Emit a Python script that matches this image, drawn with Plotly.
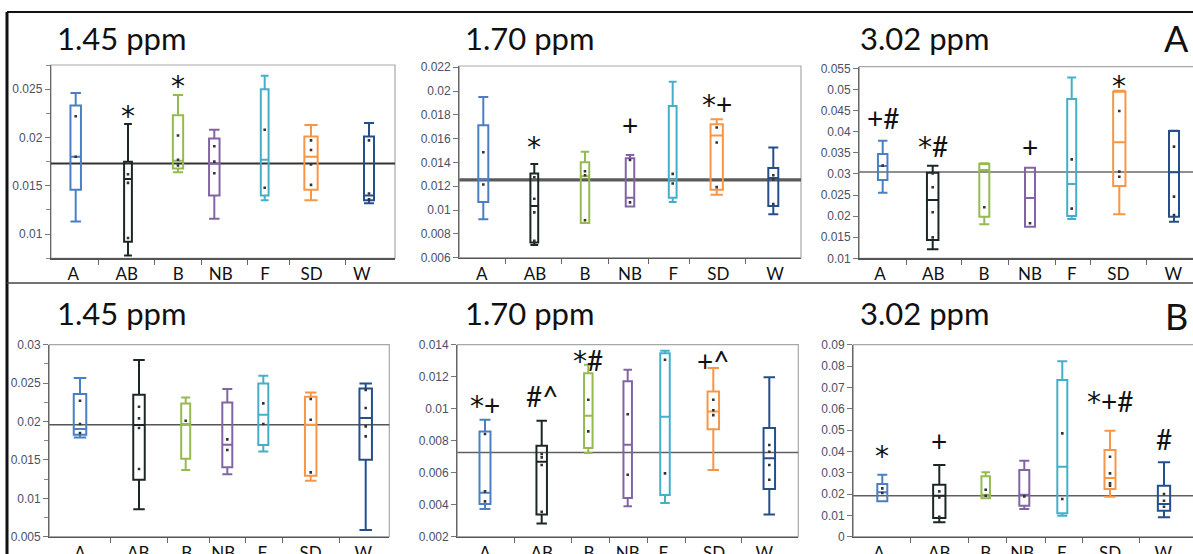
import plotly.graph_objects as go

# ---------------- DATA ----------------
GROUPS = ["A", "AB", "B", "NB", "F", "SD", "W"]

# Panel A, 1.45 ppm
A145_LOW = [0.0113, 0.0078, 0.0164, 0.0116, 0.0135, 0.0135, 0.0132]
A145_Q1 = [0.0146, 0.0092, 0.0168, 0.0140, 0.0140, 0.0146, 0.0135]
A145_MED = [0.0180, 0.0157, 0.0176, 0.0173, 0.0177, 0.0180, 0.0140]
A145_Q3 = [0.0233, 0.0175, 0.0223, 0.0199, 0.0250, 0.0201, 0.0201]
A145_HIGH = [0.0246, 0.0214, 0.0244, 0.0208, 0.0264, 0.0213, 0.0215]
A145_PTS = [[0.0222, 0.0180], [0.0162, 0.0153, 0.0096], [0.0202, 0.0177, 0.0171],
            [0.0191, 0.0175, 0.0163], [0.0208, 0.0148], [0.0197, 0.0187, 0.0172, 0.0151],
            [0.0197, 0.0142, 0.0136]]
A145_MEAN = 0.0173
A145_YTICKS = [0.01, 0.015, 0.02, 0.025]

# Panel A, 1.70 ppm
A170_LOW = [0.00923, 0.00706, 0.00892, 0.01031, 0.01067, 0.01129, 0.00964]
A170_Q1 = [0.01067, 0.00728, 0.00892, 0.01031, 0.01104, 0.01170, 0.01034]
A170_MED = [0.01257, 0.01034, 0.01284, 0.01104, 0.01257, 0.01627, 0.01270]
A170_Q3 = [0.01713, 0.01307, 0.01401, 0.01435, 0.01874, 0.01721, 0.01354]
A170_HIGH = [0.01949, 0.01387, 0.01490, 0.01462, 0.02077, 0.01763, 0.01526]
A170_PTS = [[0.01485, 0.01215], [0.01276, 0.01095, 0.00981, 0.00742], [0.01326, 0.01293, 0.00914],
            [0.01421, 0.01065], [0.01304, 0.01223], [0.01693, 0.01568, 0.01193],
            [0.01293, 0.01257, 0.01051]]
A170_MEAN = 0.01254
A170_YTICKS = [0.006, 0.008, 0.01, 0.012, 0.014, 0.016, 0.018, 0.02, 0.022]

# Panel A, 3.02 ppm
A302_LOW = [0.02555, 0.01213, 0.01805, 0.01750, 0.01932, 0.02042, 0.01868]
A302_Q1 = [0.02855, 0.01434, 0.01987, 0.01750, 0.02003, 0.02713, 0.01987]
A302_MED = [0.03187, 0.02382, 0.03092, 0.02429, 0.02760, 0.03747, 0.03037]
A302_Q3 = [0.03471, 0.03029, 0.03234, 0.03147, 0.04774, 0.04947, 0.04016]
A302_HIGH = [0.03787, 0.03195, 0.03250, 0.03147, 0.05287, 0.04971, 0.04024]
A302_PTS = [[0.03195], [0.03010, 0.02682, 0.02090, 0.01497], [0.02208], [0.01829],
            [0.03345, 0.02176], [0.04490, 0.03053, 0.02934], [0.03645, 0.02461, 0.02026]]
A302_MEAN = 0.03045
A302_YTICKS = [0.01, 0.015, 0.02, 0.025, 0.03, 0.035, 0.04, 0.045, 0.05, 0.055]

# Panel B, 1.45 ppm
B145_LOW = [0.01793, 0.00856, 0.01368, 0.01312, 0.01611, 0.01229, 0.00587]
B145_Q1 = [0.01828, 0.01242, 0.01516, 0.01403, 0.01694, 0.01294, 0.01503]
B145_MED = [0.01902, 0.01954, 0.01967, 0.01698, 0.02088, 0.01958, 0.02045]
B145_Q3 = [0.02358, 0.02349, 0.02236, 0.02249, 0.02496, 0.02323, 0.02431]
B145_HIGH = [0.02566, 0.02800, 0.02314, 0.02423, 0.02596, 0.02379, 0.02496]
B145_PTS = [[0.02271, 0.01967, 0.01850], [0.02193, 0.02041, 0.01915, 0.01381], [0.02010],
            [0.01767, 0.01628], [0.02236, 0.01967], [0.02292, 0.02023, 0.01338],
            [0.02410, 0.02175, 0.01937, 0.01806]]
B145_MEAN = 0.01958
B145_YTICKS = [0.005, 0.01, 0.015, 0.02, 0.025, 0.03]

# Panel B, 1.70 ppm
B170_LOW = [0.00373, 0.00283, 0.00723, 0.00390, 0.00410, 0.00617, 0.00338]
B170_Q1 = [0.00404, 0.00338, 0.00754, 0.00442, 0.00460, 0.00871, 0.00498]
B170_MED = [0.00475, 0.00669, 0.00956, 0.00775, 0.00950, 0.00983, 0.00690]
B170_Q3 = [0.00858, 0.00769, 0.01221, 0.01171, 0.01346, 0.01108, 0.00879]
B170_HIGH = [0.00931, 0.00925, 0.01275, 0.01244, 0.01362, 0.01254, 0.01196]
B170_PTS = [[0.00842, 0.00483, 0.00421], [0.00717, 0.00696, 0.00648, 0.00356], [0.01056, 0.00858],
            [0.00965, 0.00587], [0.01306, 0.00596], [0.01056, 0.00990, 0.00960],
            [0.00773, 0.00731, 0.00648, 0.00556]]
B170_MEAN = 0.00727
B170_YTICKS = [0.002, 0.004, 0.006, 0.008, 0.01, 0.012, 0.014]

# Panel B, 3.02 ppm
B302_LOW = [0.01656, 0.00672, 0.01797, 0.01297, 0.00984, 0.01875, 0.00906]
B302_Q1 = [0.01656, 0.00875, 0.01797, 0.01453, 0.01094, 0.02234, 0.01219]
B302_MED = [0.02078, 0.01922, 0.01969, 0.01969, 0.03281, 0.02750, 0.01531]
B302_Q3 = [0.02469, 0.02438, 0.02828, 0.03125, 0.07344, 0.04063, 0.02391]
B302_HIGH = [0.02906, 0.03360, 0.03016, 0.03563, 0.08219, 0.04969, 0.03484]
B302_PTS = [[0.02266, 0.02050], [0.02125, 0.01844, 0.00938], [0.02200, 0.01920], [0.01891],
            [0.04844, 0.01766], [0.03750, 0.02969, 0.02500, 0.02390], [0.02000, 0.01688, 0.01406]]
B302_MEAN = 0.01922
B302_YTICKS = [0, 0.01, 0.02, 0.03, 0.04, 0.05, 0.06, 0.07, 0.08, 0.09]

# significance marks: (group index, text, y value of glyph centre)
A145_SIG = [(1, "*", 0.0228), (2, "*", 0.0259)]
A170_SIG = [(1, "*", 0.0158), (3, "+", 0.01713), (5, "*+", 0.01883)]
A302_SIG = [(0, "+#", 0.04316), (1, "*#", 0.03643), (3, "+", 0.03643), (5, "*", 0.0522)]
B145_SIG = []
B170_SIG = [(0, "*+", 0.0102), (1, "#^", 0.01081), (2, "*#", 0.01304), (5, "+^", 0.01296)]
B302_SIG = [(0, "*", 0.0403), (1, "+", 0.045), (5, "*+#", 0.0633), (6, "#", 0.0458)]

# ---------------- STYLE / LAYOUT ----------------
W, H = 1193, 554
COLORS = ["#4a7fc4", "#1b2727", "#95ba4f", "#8264a6", "#45afc9", "#f79646", "#254f8c"]
TICKFONT = dict(family="Liberation Sans, Arial", size=12, color="#4a5068")
LABELFONT = dict(family="Lato, Open Sans", size=17, color="#111111")
MARKFONT = dict(family="Lato, Open Sans", size=28, color="#111111")
STAR = "<span style='font-family:DejaVu Sans'>*</span>"

# panel geometry in pixels: left, right, top, bottom, y range, minor dtick,
# box centres, box widths, label centres, slot separators, mean line style
PANELS = [
    dict(name="1.45 ppm", lo=A145_LOW, q1=A145_Q1, med=A145_MED, q3=A145_Q3, hi=A145_HIGH,
         pts=A145_PTS, mean=A145_MEAN, yt=A145_YTICKS, sig=A145_SIG,
         px=(51, 395, 65, 258.3), yr=(0.0075, 0.0275), minor=0.0025,
         cx=[75.7, 128, 178, 214.3, 264.7, 311, 369], bw=[10.5, 7.8, 10.3, 10.5, 7.8, 13.3, 10],
         lx=[73.3, 126.7, 178.3, 220.7, 265, 311.7, 361.7],
         sep=[98.3, 154.3, 201, 247.7, 289.3, 345], mline=("#333333", 2),
         title_x=55, title_y=38),
    dict(name="1.70 ppm", lo=A170_LOW, q1=A170_Q1, med=A170_MED, q3=A170_Q3, hi=A170_HIGH,
         pts=A170_PTS, mean=A170_MEAN, yt=A170_YTICKS, sig=A170_SIG,
         px=(459.3, 801, 66, 257.7), yr=(0.006, 0.0221), minor=None,
         cx=[483.3, 534.3, 585, 630, 672.7, 716.7, 773.3], bw=[10, 7.8, 8.5, 8.5, 7.8, 12.3, 10],
         lx=[481.7, 535, 585, 630, 673.3, 718.3, 775],
         sep=[505, 561, 608.3, 648.3, 689.3, 745], mline=("#5a5a5a", 3.2),
         title_x=462.7, title_y=38),
    dict(name="3.02 ppm", lo=A302_LOW, q1=A302_Q1, med=A302_MED, q3=A302_Q3, hi=A302_HIGH,
         pts=A302_PTS, mean=A302_MEAN, yt=A302_YTICKS, sig=A302_SIG,
         px=(859.3, 1193, 66.7, 258.3), yr=(0.01, 0.0554), minor=None,
         cx=[882.7, 932.7, 984.3, 1030, 1071.7, 1119.3, 1174], bw=[9.5, 11.5, 10, 10, 9, 12.3, 10],
         lx=[880, 933.3, 984, 1030, 1071.7, 1118.3, 1173.3],
         sep=[906, 961.7, 1008.3, 1055, 1090, 1146.7], mline=("#6a6a6a", 1.5),
         title_x=858, title_y=38),
    dict(name="1.45 ppm", lo=B145_LOW, q1=B145_Q1, med=B145_MED, q3=B145_Q3, hi=B145_HIGH,
         pts=B145_PTS, mean=B145_MEAN, yt=B145_YTICKS, sig=B145_SIG,
         px=(49.3, 389.3, 344.7, 536.7), yr=(0.005, 0.03), minor=0.0025,
         cx=[80, 139, 185.7, 227.3, 263.3, 310.7, 365.7], bw=[12.5, 11.5, 9, 10, 10, 11.5, 12.5],
         lx=[80, 138.3, 186.7, 223.3, 262.3, 310.7, 363.3],
         sep=[110, 167.7, 209.3, 245, 282.7, 339.3], mline=("#555555", 1.5),
         title_x=55, title_y=313),
    dict(name="1.70 ppm", lo=B170_LOW, q1=B170_Q1, med=B170_MED, q3=B170_Q3, hi=B170_HIGH,
         pts=B170_PTS, mean=B170_MEAN, yt=B170_YTICKS, sig=B170_SIG,
         px=(457.3, 798.3, 344.7, 536.7), yr=(0.002, 0.014), minor=None,
         cx=[485, 541.7, 588.3, 627.7, 665, 713.3, 769.3], bw=[11, 10.5, 8.5, 8.5, 9.5, 11.5, 11.5],
         lx=[485, 541.7, 589, 627.7, 663.3, 714, 764.3],
         sep=[514, 571.7, 609.3, 647.3, 685, 741.7], mline=("#5f5f5f", 1.5),
         title_x=462.7, title_y=313),
    dict(name="3.02 ppm", lo=B302_LOW, q1=B302_Q1, med=B302_MED, q3=B302_Q3, hi=B302_HIGH,
         pts=B302_PTS, mean=B302_MEAN, yt=B302_YTICKS, sig=B302_SIG,
         px=(853.3, 1193, 344.7, 536.7), yr=(0, 0.09), minor=None,
         cx=[882.3, 939.3, 985.7, 1024.3, 1062.3, 1110, 1164], bw=[10, 12.3, 8.5, 10, 10, 11, 12.3],
         lx=[879, 939.3, 985.7, 1022.3, 1061.7, 1110, 1163.3],
         sep=[910, 968.3, 1006.7, 1045, 1082.7, 1139.3], mline=("#5f5f5f", 1.5),
         title_x=858, title_y=313),
]

fig = go.Figure()
shapes, annotations = [], []

for i, p in enumerate(PANELS):
    n = i + 1
    xa = "x" if n == 1 else f"x{n}"
    ya = "y" if n == 1 else f"y{n}"
    left, right, top, bottom = p["px"]

    for g in range(len(GROUPS)):
        fig.add_trace(go.Box(
            x=[p["cx"][g]], q1=[p["q1"][g]], median=[p["med"][g]], q3=[p["q3"][g]],
            lowerfence=[p["lo"][g]], upperfence=[p["hi"][g]],
            width=p["bw"][g], whiskerwidth=1, boxpoints=False,
            line=dict(color=COLORS[g], width=2), fillcolor="rgba(0,0,0,0)",
            xaxis=xa, yaxis=ya, showlegend=False, hoverinfo="skip"))
        fig.add_trace(go.Scatter(
            x=[p["cx"][g]] * len(p["pts"][g]), y=p["pts"][g], mode="markers",
            marker=dict(color="#333333", size=2.6, symbol="square"),
            xaxis=xa, yaxis=ya, showlegend=False, hoverinfo="skip"))

    xdom = [left / W, min(right / W, 1.0)]
    ydom = [1 - bottom / H, 1 - top / H]
    xkey = "xaxis" if n == 1 else f"xaxis{n}"
    ykey = "yaxis" if n == 1 else f"yaxis{n}"
    fig.layout[xkey] = dict(
        domain=xdom, range=[left, right], anchor=ya, showgrid=False, zeroline=False,
        automargin=False,
        showline=True, linecolor="#555555", linewidth=1.5,
        tickmode="array", tickvals=p["lx"], ticktext=GROUPS, ticks="",
        tickfont=LABELFONT,
        minor=dict(tickmode="array", tickvals=p["sep"], ticks="outside", ticklen=5,
                   tickcolor="#666666", tickwidth=1, showgrid=False))
    ydict = dict(
        domain=ydom, range=list(p["yr"]), anchor=xa, showgrid=False, zeroline=False,
        automargin=False,
        showline=True, linecolor="#666666", linewidth=1.2,
        tickmode="array", tickvals=p["yt"], ticktext=[f"{v:g}" for v in p["yt"]],
        ticks="outside", ticklen=5, tickcolor="#777777", tickfont=TICKFONT)
    if p["minor"]:
        ydict["minor"] = dict(dtick=p["minor"], ticks="outside", ticklen=4,
                              tickcolor="#888888", showgrid=False)
    fig.layout[ykey] = ydict

    # plot frame (top / right), drawn light grey
    shapes.append(dict(type="rect", xref=f"{xa} domain", yref=f"{ya} domain",
                       x0=0, x1=1.0 if right < W else 1.05, y0=0, y1=1,
                       line=dict(color="#a8a8a8", width=1.2), layer="below"))
    # grand mean line
    shapes.append(dict(type="line", xref=f"{xa} domain", yref=ya, x0=0, x1=1,
                       y0=p["mean"], y1=p["mean"],
                       line=dict(color=p["mline"][0], width=p["mline"][1]), layer="below"))

    # panel title
    annotations.append(dict(text=p["name"], xref="paper", yref="paper",
                            x=p["title_x"] / W, y=1 - p["title_y"] / H,
                            xanchor="left", yanchor="middle", showarrow=False,
                            font=dict(family="Lato, Open Sans", size=31, color="#111111")))
    # significance marks
    for g, txt, yv in p["sig"]:
        annotations.append(dict(text=txt.replace("*", STAR), xref=xa, yref=ya,
                                x=p["cx"][g], y=yv,
                                xanchor="center", yanchor="middle", showarrow=False,
                                yshift=-6 if txt == "*" else 0, font=MARKFONT))

# figure letters
annotations.append(dict(text="A", xref="paper", yref="paper", x=1176 / W, y=1 - 38 / H,
                        xanchor="center", yanchor="middle", showarrow=False,
                        font=dict(family="Lato, Open Sans", size=36, color="#111111")))
annotations.append(dict(text="B", xref="paper", yref="paper", x=1176 / W, y=1 - 316 / H,
                        xanchor="center", yanchor="middle", showarrow=False,
                        font=dict(family="Lato, Open Sans", size=36, color="#111111")))

# outer frame lines
shapes.append(dict(type="line", xref="paper", yref="paper", x0=7 / W, x1=1.0,
                   y0=1 - 12 / H, y1=1 - 12 / H, line=dict(color="#111111", width=2)))
shapes.append(dict(type="line", xref="paper", yref="paper", x0=7 / W, x1=7 / W,
                   y0=0, y1=1 - 12 / H, line=dict(color="#111111", width=3)))
shapes.append(dict(type="line", xref="paper", yref="paper", x0=7 / W, x1=1.0,
                   y0=1 - 283 / H, y1=1 - 283 / H, line=dict(color="#444444", width=1.5)))

fig.update_layout(width=W, height=H, margin=dict(l=0, r=0, t=0, b=0, pad=0, autoexpand=False),
                  autosize=False,
                  paper_bgcolor="white", plot_bgcolor="white",
                  shapes=shapes, annotations=annotations, showlegend=False)

fig.write_html("out.html", config={"displayModeBar": False, "staticPlot": True},
               post_script="document.body.style.margin='0px';document.body.style.overflow='hidden';")
